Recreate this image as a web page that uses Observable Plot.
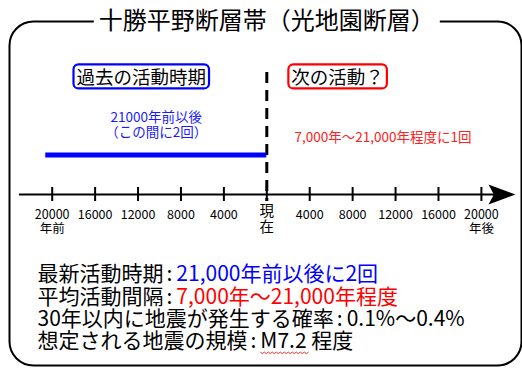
<!DOCTYPE html>
<html><head><meta charset="utf-8">
<script src="https://cdn.jsdelivr.net/npm/d3@7"></script>
<script src="https://cdn.jsdelivr.net/npm/@observablehq/plot@0.6"></script>
<style>body{margin:0;background:#fff} svg{display:block}</style>
</head><body><div id="chart"></div>
<script>
// ---- data ----
const title = "十勝平野断層帯（光地園断層）";
const tickYears = [-20000, -16000, -12000, -8000, -4000, 0, 4000, 8000, 12000, 16000, 20000];
const tickLabels = ["20000\n年前", "16000", "12000", "8000", "4000", "現\n在", "4000", "8000", "12000", "16000", "20000\n年後"];
const phaseLabels = ["過去の活動時期", "次の活動？"];
const phaseYears = [-11700, 6600];
const phaseColors = ["#0000ff", "#ff0000"];
const pastStart = -20600, pastEnd = 0;
const pastNote = "21000年前以後\n（この間に2回）";
const nextNote = "7,000年～21,000年程度に1回";
const nextNoteYear = 10830;
const axisStart = -23050, axisEnd = 21920;
const summaryLabels = ["最新活動時期", "平均活動間隔", "30年以内に地震が発生する確率", "想定される地震の規模"];
const summaryValues = ["21,000年前以後に2回", "7,000年～21,000年程度", "0.1%～0.4%", "M7.2 程度"];
const summaryColors = ["#0000ff", "#ff0000", "#000000", "#000000"];

const ticks = tickYears.map((year, i) => ({year, label: tickLabels[i]}));
const summary = summaryLabels.map((label, i) => ({label, value: summaryValues[i], color: summaryColors[i]}));

const FONT = "'Noto Sans CJK JP', 'Liberation Sans', sans-serif";
const stealth = {
  draw(ctx, size) {
    const r = Math.sqrt(size / Math.PI);
    ctx.moveTo(r, 0);
    ctx.lineTo(-r, -r * 0.74);
    ctx.lineTo(-r * 0.6, 0);
    ctx.lineTo(-r, r * 0.74);
    ctx.closePath();
  }
};

const axisY = 194;
const chart = Plot.plot({
  width: 522, height: 370,
  margin: 0,
  style: {fontFamily: FONT, background: "white"},
  x: {domain: [-20000, 20000], range: [51.7, 480.9], axis: null},
  y: {domain: [0, 370], range: [0, 370], axis: null},
  marks: [
    Plot.frame({insetLeft: 9, insetRight: 1, insetTop: 21, insetBottom: 5, rx: 24, stroke: "black", strokeWidth: 2}),
    Plot.text([title], {x: 0, y: 21, text: d => d, fontSize: 24, fill: "black", fontFamily: FONT}),
    Plot.text(phaseLabels, {x: (d, i) => phaseYears[i], y: 78, text: d => d, fontSize: 18.5, fill: "black", fontFamily: FONT}),
    Plot.ruleX([0], {x: d => d, y1: 72, y2: 201, stroke: "black", strokeWidth: 3, strokeDasharray: "11,7"}),
    Plot.ruleY([{x1: pastStart, x2: pastEnd}], {x1: "x1", x2: "x2", y: 154.5, stroke: "#0000ff", strokeWidth: 5}),
    Plot.text([pastNote], {x: (pastStart + pastEnd) / 2, y: 124, text: d => d, lineAnchor: "middle", fontSize: 13.5, lineHeight: 1.1, fill: "#1a1aff", fontFamily: FONT}),
    Plot.text([nextNote], {x: nextNoteYear, y: 137.5, text: d => d, fontSize: 13.5, fill: "#ff2020", fontFamily: FONT}),
    Plot.ruleY([axisY], {x1: axisStart, x2: axisEnd, stroke: "black", strokeWidth: 2}),
    Plot.dot([axisEnd], {x: d => d, y: axisY, symbol: stealth, r: 13.5, fill: "black", stroke: "none"}),
    Plot.ruleX(ticks, {x: "year", y1: 187, y2: 201, stroke: "black", strokeWidth: 2}),
    Plot.text(ticks.filter(d => d.year !== 0), {x: "year", y: 209, text: "label", lineAnchor: "top", fontSize: 12.5, lineHeight: 1.12, fill: "black", fontFamily: FONT}),
    Plot.text(ticks.filter(d => d.year === 0), {x: "year", y: 205, text: "label", lineAnchor: "top", fontSize: 14.5, lineHeight: 1.05, fill: "black", fontFamily: FONT}),
    Plot.text(summary, {frameAnchor: "left", dx: 37, y: (d, i) => 274 + i * 22.3, text: d => d.label + ":" + d.value, textAnchor: "start", fontSize: 21, fill: "black", fontFamily: FONT})
  ]
});
document.getElementById("chart").appendChild(chart);

const NS = "http://www.w3.org/2000/svg";
const allTexts = Array.from(chart.querySelectorAll("text"));
function boxBehind(el, stroke, padX, padY, rx, sw) {
  const bb = el.getBBox();
  const r = document.createElementNS(NS, "rect");
  r.setAttribute("x", bb.x - padX);
  r.setAttribute("y", bb.y - padY);
  r.setAttribute("width", bb.width + 2 * padX);
  r.setAttribute("height", bb.height + 2 * padY);
  r.setAttribute("rx", rx);
  r.setAttribute("fill", "white");
  r.setAttribute("stroke", stroke);
  r.setAttribute("stroke-width", sw);
  if (el.getAttribute("transform")) r.setAttribute("transform", el.getAttribute("transform"));
  el.parentNode.insertBefore(r, el);
}
allTexts.filter(el => el.textContent === title).forEach(el => boxBehind(el, "none", 5, -4, 0, 0));
phaseLabels.forEach((lab, i) => {
  allTexts.filter(el => el.textContent === lab).forEach(el => boxBehind(el, phaseColors[i], 3, -1, 5, 2.2));
});
summary.forEach((row, i) => {
  allTexts.filter(el => el.textContent === row.label + ":" + row.value).forEach(el => {
    const t = d3.select(el);
    t.text(null);
    t.append("tspan").attr("fill", "black").text(row.label);
    t.append("tspan").attr("fill", "black").attr("dx", 3).text(":");
    if (i === 3) {
      const [m, rest] = row.value.split(" ");
      const ts = t.append("tspan").attr("fill", row.color).attr("dx", 4).text(m);
      t.append("tspan").attr("fill", row.color).text(" " + rest);
      try {
        const bb = ts.node().getBBox();
        const yb = bb.y + bb.height - 2;
        let d = `M${bb.x},${yb}`;
        for (let x = bb.x, k = 0; x < bb.x + bb.width; x += 2, k++) d += `L${x + 2},${yb + (k % 2 ? 0 : 1.5)}`;
        const p = document.createElementNS(NS, "path");
        p.setAttribute("d", d);
        p.setAttribute("fill", "none");
        p.setAttribute("stroke", "#e03030");
        p.setAttribute("stroke-width", 1);
        if (el.getAttribute("transform")) p.setAttribute("transform", el.getAttribute("transform"));
        el.parentNode.appendChild(p);
      } catch (e) {}
    } else {
      t.append("tspan").attr("fill", row.color).attr("dx", 4).text(row.value);
    }
  });
});
</script>
</body></html>
